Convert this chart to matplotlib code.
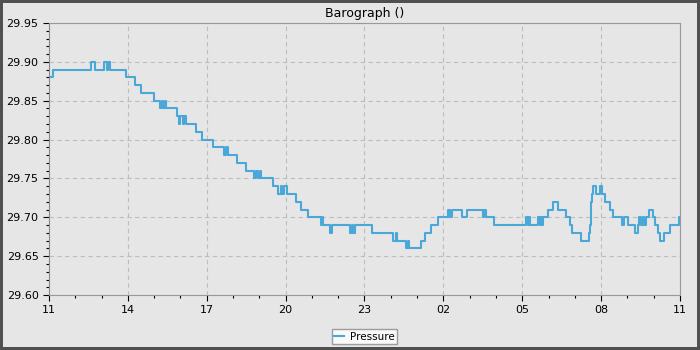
import numpy as np
import matplotlib
matplotlib.use("Agg")
import matplotlib.pyplot as plt
from matplotlib.ticker import MultipleLocator, FixedLocator

# hours since 11:00 where the reading changes, and the reading from then on
hours = [0.00, 0.15, 1.60, 1.75, 2.11, 2.21, 2.24, 2.32, 2.92, 3.27, 3.49,
         4.01, 4.22, 4.30, 4.34, 4.41, 4.45, 4.88, 4.94, 4.98, 5.10, 5.14,
         5.21, 5.58, 5.83, 6.25, 6.66, 6.73, 6.81, 7.14, 7.48, 7.80, 7.87,
         7.95, 8.03, 8.06, 8.51, 8.72, 8.82, 8.86, 8.94, 9.05, 9.38, 9.57,
         9.86, 10.33, 10.38, 10.42, 10.69, 10.76, 11.45, 11.53, 11.56, 11.64,
         12.27, 13.07, 13.19, 13.24, 13.58, 13.66, 13.69, 14.15, 14.30, 14.52,
         14.81, 15.18, 15.25, 15.33, 15.72, 15.89, 16.50, 16.55, 16.62, 16.94,
         18.14, 18.22, 18.26, 18.30, 18.61, 18.68, 18.71, 18.75, 18.79, 18.99,
         19.18, 19.37, 19.67, 19.82, 19.88, 20.24, 20.55, 20.58, 20.61, 20.65,
         20.70, 20.80, 20.96, 21.05, 21.15, 21.34, 21.46, 21.78, 21.88, 22.04,
         22.29, 22.42, 22.46, 22.50, 22.59, 22.63, 22.69, 22.83, 22.98, 23.05,
         23.15, 23.23, 23.40, 23.62, 23.96, 24.00]
pressure = [29.88, 29.89, 29.90, 29.89, 29.90, 29.89, 29.90, 29.89, 29.88, 29.87, 29.86,
            29.85, 29.84, 29.85, 29.84, 29.85, 29.84, 29.83, 29.82, 29.83, 29.82, 29.83,
            29.82, 29.81, 29.80, 29.79, 29.78, 29.79, 29.78, 29.77, 29.76, 29.75, 29.76,
            29.75, 29.76, 29.75, 29.74, 29.73, 29.74, 29.73, 29.74, 29.73, 29.72, 29.71,
            29.70, 29.69, 29.70, 29.69, 29.68, 29.69, 29.68, 29.69, 29.68, 29.69,
            29.68, 29.67, 29.68, 29.67, 29.66, 29.67, 29.66, 29.67, 29.68, 29.69,
            29.70, 29.71, 29.70, 29.71, 29.70, 29.71, 29.70, 29.71, 29.70, 29.69,
            29.70, 29.69, 29.70, 29.69, 29.70, 29.69, 29.70, 29.69, 29.70, 29.71,
            29.72, 29.71, 29.70, 29.69, 29.68, 29.67, 29.68, 29.69, 29.72, 29.73,
            29.74, 29.73, 29.74, 29.73, 29.72, 29.71, 29.70, 29.69, 29.70, 29.69,
            29.68, 29.69, 29.70, 29.69, 29.70, 29.69, 29.70, 29.71, 29.70, 29.69,
            29.68, 29.67, 29.68, 29.69, 29.70, 29.70]

tick_hours = [0, 3, 6, 9, 12, 15, 18, 21, 24]
tick_labels = ["11", "14", "17", "20", "23", "02", "05", "08", "11"]

bg = "#e6e6e6"
fig = plt.figure(figsize=(7, 3.5), dpi=100, facecolor=bg,
                 edgecolor="#505050", linewidth=3)
ax = fig.add_axes([0.07, 0.157, 0.9014, 0.7773], facecolor=bg)

ax.step(hours, pressure, where="post", color="#4aa8d8", lw=1.5,
        label="Pressure")

ax.set_xlim(0, 24)
ax.set_ylim(29.60, 29.95)
ax.xaxis.set_major_locator(FixedLocator(tick_hours))
ax.set_xticklabels(tick_labels)
ax.xaxis.set_minor_locator(MultipleLocator(1))
ax.yaxis.set_major_locator(MultipleLocator(0.05))
ax.yaxis.set_minor_locator(MultipleLocator(0.01))
ax.yaxis.set_major_formatter(matplotlib.ticker.FormatStrFormatter("%.2f"))
ax.tick_params(which="major", length=4, labelsize=8, width=0.8)
ax.tick_params(which="minor", length=2.5, width=0.8)
ax.grid(True, which="major", color="#bdbdbd", ls=(0, (4, 3)), lw=0.8)
for s in ax.spines.values():
    s.set_color("#999999")
ax.spines["left"].set_color("#888888")

ax.set_title("Barograph ()", fontsize=9, pad=4)
leg = ax.legend(loc="upper center", bbox_to_anchor=(0.5, -0.125), fontsize=7.5,
                frameon=True, fancybox=False, handlelength=0.9,
                borderpad=0.25, handletextpad=0.6, borderaxespad=0)
leg.get_frame().set_facecolor("white")
leg.get_frame().set_edgecolor("#888888")

fig.savefig("out.png", dpi=100, facecolor=bg, edgecolor="#505050")
